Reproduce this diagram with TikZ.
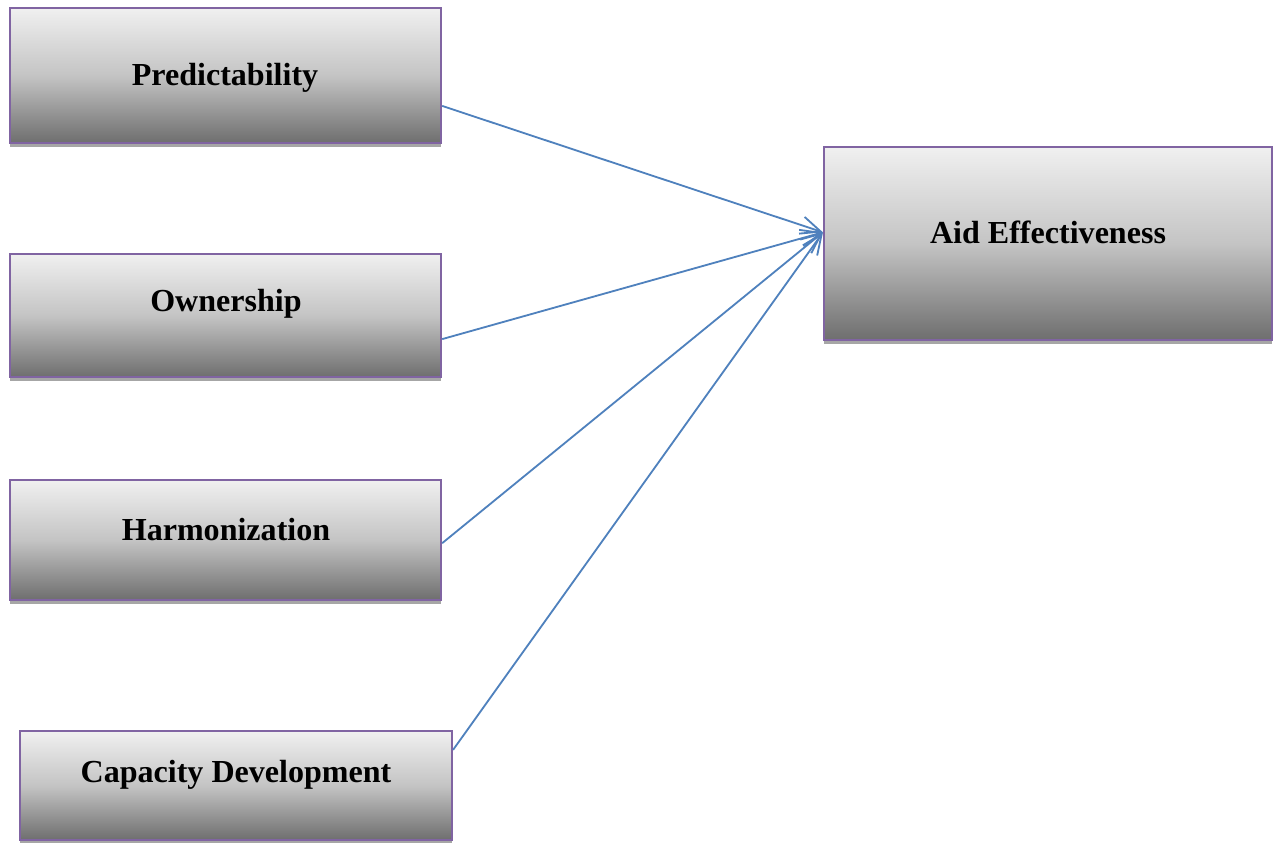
\documentclass[tikz,border=0pt]{standalone}
\usepackage{fontspec}
\setmainfont{Liberation Serif}
\usetikzlibrary{arrows.meta}
\usetikzlibrary{positioning}
\usetikzlibrary{shadows}
\definecolor{boxline}{HTML}{8064A2}
\definecolor{boxtop}{HTML}{F0F0F0}
\definecolor{boxmid}{HTML}{C4C4C4}
\definecolor{boxbot}{HTML}{6E6E6E}
\definecolor{linkblue}{HTML}{4F81BD}
\tikzset{
  factor/.style={rectangle,draw=boxline,line width=1.4pt,top color=boxtop,bottom color=boxbot,middle color=boxmid,
    drop shadow={shadow xshift=0cm,shadow yshift=-0.1cm,fill=black!35,opacity=1}},
  caption/.style={font=\fontsize{22.8}{27}\selectfont\bfseries},
  link/.style={draw=linkblue,line width=1.3pt,-{Straight Barb[length=5mm,width=4.4mm]}}
}

\begin{document}
\begin{tikzpicture}[x=0.025cm,y=-0.025cm]
\useasboundingbox (0,0) rectangle (1274,842);
\path (225.5,75.5) node[factor,minimum width=10.78cm,minimum height=3.38cm] (pred) {};
\path (225.5,315.5) node[factor,minimum width=10.78cm,minimum height=3.08cm] (own) {};
\path (225.5,540) node[factor,minimum width=10.78cm,minimum height=3.0cm] (harm) {};
\path (236,785.5) node[factor,minimum width=10.8cm,minimum height=2.73cm] (cap) {};
\path (1048,243.5) node[factor,minimum width=11.2cm,minimum height=4.83cm] (aid) {};
\path (225,78) node[caption] (predtext) {Predictability};
\path (226,304) node[caption] (owntext) {Ownership};
\path (226,530) node[caption] (harmtext) {Harmonization};
\path (236,775) node[caption] (captext) {Capacity Development};
\path (1048,232) node[caption] (aidtext) {Aid Effectiveness};
\coordinate (hub) at ([yshift=0.28cm]aid.west);
\draw[link] ([yshift=-0.76cm]pred.east) -- (hub);
\draw[link] ([yshift=-0.59cm]own.east) -- (hub);
\draw[link] ([yshift=-0.08cm]harm.east) -- (hub);
\draw[link] ([yshift=0.89cm]cap.east) -- (hub);
\end{tikzpicture}
\end{document}
